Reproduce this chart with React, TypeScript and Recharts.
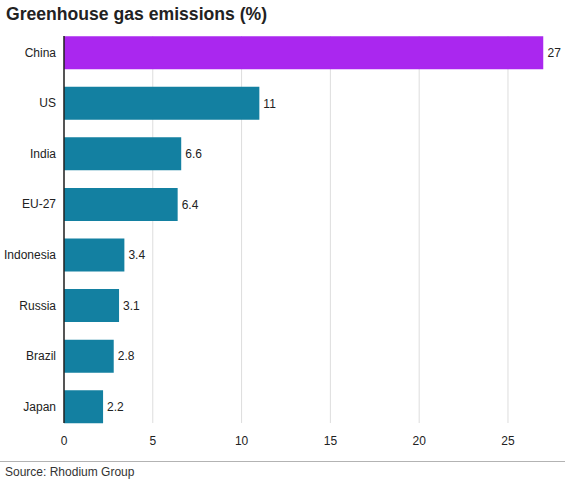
import {
  Bar,
  BarChart,
  CartesianGrid,
  Cell,
  LabelList,
  XAxis,
  YAxis,
} from "recharts";

const countries = [
  "China",
  "US",
  "India",
  "EU-27",
  "Indonesia",
  "Russia",
  "Brazil",
  "Japan",
];
const shares = [27, 11, 6.6, 6.4, 3.4, 3.1, 2.8, 2.2];
const xTicks = [0, 5, 10, 15, 20, 25];

const highlight = "China";
const font = '"Liberation Sans", Arial, Helvetica, sans-serif';

const chartData = countries.map((name, i) => ({ name, value: shares[i] }));

export default function App() {
  return (
    <div
      style={{
        position: "absolute",
        left: 0,
        top: 0,
        width: 565,
        height: 487,
        background: "#fff",
        fontFamily: font,
        color: "#222",
      }}
    >
      <div
        style={{
          position: "absolute",
          left: 6,
          top: 4,
          fontSize: 17.6,
          fontWeight: 700,
          color: "#222",
          whiteSpace: "nowrap",
        }}
      >
        Greenhouse gas emissions (%)
      </div>

      <BarChart
        width={565}
        height={460}
        data={chartData}
        layout="vertical"
        margin={{ top: 36, right: 21.5, left: 0, bottom: 7 }}
        style={{ position: "absolute", left: 0, top: 0 }}
      >
        {/* only the tick positions get a gridline, not the domain edge */}
        <CartesianGrid
          stroke="#dddddd"
          horizontal={false}
          verticalValues={xTicks}
        />
        <XAxis
          type="number"
          domain={[0, 27]}
          ticks={xTicks}
          allowDataOverflow
          axisLine={false}
          tickLine={false}
          tickSize={6}
          tickMargin={7}
          height={30}
          tick={{ fill: "#222", fontSize: 12, fontFamily: font }}
        />
        <YAxis
          type="category"
          dataKey="name"
          width={64}
          padding={{ top: -8.8, bottom: -8.8 }}
          axisLine={{ stroke: "#222", strokeWidth: 1.5 }}
          tickLine={false}
          tick={{ fill: "#222", fontSize: 12, fontFamily: font }}
        />
        <Bar dataKey="value" barSize={33} isAnimationActive={false}>
          {chartData.map((d) => (
            <Cell
              key={d.name}
              fill={d.name === highlight ? "#aa27ef" : "#1380a1"}
            />
          ))}
          <LabelList
            dataKey="value"
            position="right"
            offset={4}
            fill="#222"
            fontSize={12}
            fontFamily={font}
          />
        </Bar>
      </BarChart>

      <div
        style={{
          position: "absolute",
          left: 0,
          top: 461,
          width: 565,
          height: 1,
          background: "#b3b3b3",
        }}
      />
      <div
        style={{
          position: "absolute",
          left: 5,
          top: 465,
          fontSize: 12,
          color: "#333",
          whiteSpace: "nowrap",
        }}
      >
        Source: Rhodium Group
      </div>
    </div>
  );
}
